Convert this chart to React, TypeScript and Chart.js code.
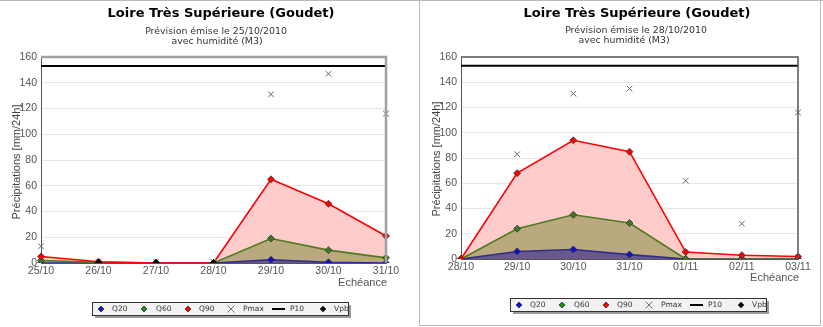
import React, { useEffect, useRef } from "react";
import { Chart, registerables } from "chart.js";
Chart.register(...registerables);

// ---- text ----
const TITLE = "Loire Très Supérieure (Goudet)";
const SUBTITLE_2 = "avec humidité (M3)";
const Y_TITLE = "Précipitations [mm/24h]";
const X_TITLE = "Echéance";
const LEGEND_LABELS = ["Q20", "Q60", "Q90", "Pmax", "P10", "Vpb"];
const Y_MIN = 0;
const Y_MAX = 160;
const Y_STEP = 20;

// ---- left chart data ----
const leftIssue = "Prévision émise le 25/10/2010";
const leftDates = ["25/10", "26/10", "27/10", "28/10", "29/10", "30/10", "31/10"];
const leftQ20 = [0, 0, 0, 0, 2.5, 0.5, 0];
const leftQ60 = [2, 0.5, 0, 0, 19, 10, 4];
const leftQ90 = [5, 1, 0, 0, 65, 46, 21];
const leftPmax = [13, 1, 1, 1, 131, 147, 116];
const leftP10 = 153;
const leftVpb = [null, 0, 0, 0, null, null, null];

// ---- right chart data ----
const rightIssue = "Prévision émise le 28/10/2010";
const rightDates = ["28/10", "29/10", "30/10", "31/10", "01/11", "02/11", "03/11"];
const rightQ20 = [0, 6, 7.5, 3.5, 0, 0, 0];
const rightQ60 = [0, 24, 35, 28.5, 0, 0, 0];
const rightQ90 = [0, 68, 94, 85, 5.5, 3, 2];
const rightPmax = [null, 83, 131, 135, 62, 28, 116];
const rightP10 = 153;
const rightVpb = [null, null, null, null, null, null, null];

const TICK_FONT = { family: "'Liberation Sans', Arial, sans-serif", size: 10.5 };

type Geom = {
  x: number; w: number; h: number;
  left: number; right: number; top: number; bottom: number;
  titleX: number; sub1X: number; sub2X: number;
  titleY: number; sub1Y: number; sub2Y: number;
  yTitleX: number; yTitleY: number; xTitleDy: number;
  legX: number; legY: number;
  frameColor: string; frameWidth: number;
};

type PanelProps = {
  dates: string[]; q20: number[]; q60: number[]; q90: number[];
  pmax: (number | null)[]; vpb: (number | null)[]; p10: number; issue: string; g: Geom;
};

function diamond(ctx: CanvasRenderingContext2D, x: number, y: number, r: number, fill: string) {
  ctx.beginPath();
  ctx.moveTo(x, y - r);
  ctx.lineTo(x + r, y);
  ctx.lineTo(x, y + r);
  ctx.lineTo(x - r, y);
  ctx.closePath();
  ctx.fillStyle = fill;
  ctx.fill();
  ctx.strokeStyle = "#333";
  ctx.lineWidth = 0.8;
  ctx.stroke();
}

function Panel({ dates, q20, q60, q90, pmax, vpb, p10, issue, g }: PanelProps) {
  const ref = useRef<HTMLCanvasElement>(null);
  useEffect(() => {
    const X_H = 20;
    const decor = {
      id: "decor",
      afterDraw(chart: any) {
        const ctx: CanvasRenderingContext2D = chart.ctx;
        const a = chart.chartArea;
        ctx.save();
        // frame top & right
        ctx.strokeStyle = g.frameColor;
        ctx.lineWidth = g.frameWidth;
        ctx.beginPath();
        ctx.moveTo(a.left, a.top);
        ctx.lineTo(a.right, a.top);
        ctx.lineTo(a.right, a.bottom);
        ctx.stroke();
        // titles
        ctx.textAlign = "center";
        ctx.textBaseline = "middle";
        ctx.fillStyle = "#000";
        ctx.font = "bold 13px 'DejaVu Sans', sans-serif";
        ctx.fillText(TITLE, g.titleX, g.titleY);
        ctx.fillStyle = "#333";
        ctx.font = "9.4px 'DejaVu Sans', sans-serif";
        ctx.fillText(issue, g.sub1X, g.sub1Y);
        ctx.fillText(SUBTITLE_2, g.sub2X, g.sub2Y);
        // y title
        ctx.save();
        ctx.translate(g.yTitleX, g.yTitleY);
        ctx.rotate(-Math.PI / 2);
        ctx.fillStyle = "#444";
        ctx.font = "11px 'Liberation Sans', Arial, sans-serif";
        ctx.fillText(Y_TITLE, 0, 0);
        ctx.restore();
        // x title
        ctx.textAlign = "right";
        ctx.fillStyle = "#555";
        ctx.font = "11px 'Liberation Sans', Arial, sans-serif";
        ctx.fillText(X_TITLE, a.right + 1, a.bottom + g.xTitleDy);
        // legend
        const lw = 256, lh = 13;
        ctx.fillStyle = "#9a9a9a";
        ctx.fillRect(g.legX + 3, g.legY + 3, lw, lh);
        ctx.fillStyle = "#f2f2f2";
        ctx.fillRect(g.legX, g.legY, lw, lh);
        ctx.strokeStyle = "#333";
        ctx.lineWidth = 1;
        ctx.strokeRect(g.legX + 0.5, g.legY + 0.5, lw, lh);
        const cy = g.legY + lh / 2 + 0.5;
        const mk = [9, 52, 96, 139, 186, 231];
        const lb = [20, 64, 107, 151, 198, 242];
        diamond(ctx, g.legX + mk[0], cy, 3, "#1010d0");
        diamond(ctx, g.legX + mk[1], cy, 3, "#1a8a1a");
        diamond(ctx, g.legX + mk[2], cy, 3, "#ff0000");
        ctx.strokeStyle = "#666";
        ctx.lineWidth = 0.9;
        ctx.beginPath();
        ctx.moveTo(g.legX + mk[3] - 3.5, cy - 3.5);
        ctx.lineTo(g.legX + mk[3] + 3.5, cy + 3.5);
        ctx.moveTo(g.legX + mk[3] + 3.5, cy - 3.5);
        ctx.lineTo(g.legX + mk[3] - 3.5, cy + 3.5);
        ctx.stroke();
        ctx.strokeStyle = "#000";
        ctx.lineWidth = 2;
        ctx.beginPath();
        ctx.moveTo(g.legX + 180, cy);
        ctx.lineTo(g.legX + 193, cy);
        ctx.stroke();
        diamond(ctx, g.legX + mk[5], cy, 3, "#000");
        ctx.textAlign = "left";
        ctx.fillStyle = "#333";
        ctx.font = "7.5px 'DejaVu Sans', sans-serif";
        LEGEND_LABELS.forEach((t, i) => ctx.fillText(t, g.legX + lb[i], cy));
        ctx.restore();
      },
    };

    const fillDs = (data: number[], color: string) => ({
      data, fill: "origin", backgroundColor: color, borderWidth: 0, pointRadius: 0, tension: 0,
    });
    const lineDs = (data: number[], line: string, marker: string) => ({
      data, fill: false, borderColor: line, borderWidth: 1.6, pointStyle: "rectRot",
      pointRadius: 3.5, pointBackgroundColor: marker, pointBorderColor: "#333", pointBorderWidth: 0.8, tension: 0,
    });

    const chart = new Chart(ref.current!, {
      type: "line",
      data: {
        labels: dates,
        datasets: [
          { data: vpb, showLine: false, pointStyle: "rectRot", pointRadius: 3.5, pointBackgroundColor: "#000", pointBorderColor: "#000", borderColor: "#000" },
          { data: pmax, showLine: false, pointStyle: "crossRot", pointRadius: 4, pointBorderColor: "#666", pointBorderWidth: 1, borderColor: "#666" },
          lineDs(q90, "#ff0000", "#ff0000"),
          lineDs(q60, "#4f7a1e", "#3f7a1e"),
          lineDs(q20, "#2e2e8a", "#1010d0"),
          { data: dates.map(() => p10), borderColor: "#000", borderWidth: 2, pointRadius: 0, fill: false },
          fillDs(q20, "rgb(104,88,140)"),
          fillDs(q60, "rgb(186,168,126)"),
          fillDs(q90, "rgb(255,204,204)"),
        ] as any,
      },
      options: {
        responsive: false,
        animation: false,
        layout: {
          padding: { left: 0, top: g.top, right: g.w - g.right, bottom: g.h - g.bottom - X_H },
        },
        plugins: { legend: { display: false }, tooltip: { enabled: false }, title: { display: false } },
        scales: {
          x: {
            type: "category",
            offset: false,
            grid: { display: false, drawTicks: false },
            border: { display: true, color: "#555", width: 1 },
            ticks: { color: "#555", font: TICK_FONT, maxRotation: 0, autoSkip: false, padding: 2 },
            afterFit: (s: any) => { s.height = X_H; },
          },
          y: {
            min: Y_MIN, max: Y_MAX,
            grid: { color: "#e6e6e6", drawTicks: false },
            border: { display: true, color: "#555", width: 1 },
            ticks: { stepSize: Y_STEP, color: "#555", font: TICK_FONT, padding: 4 },
            afterFit: (s: any) => { s.width = g.left; },
          },
        },
      } as any,
      plugins: [decor],
    });
    return () => chart.destroy();
  }, []);
  return (
    <canvas
      ref={ref}
      width={g.w}
      height={g.h}
      style={{ position: "absolute", left: g.x, top: 0, width: g.w, height: g.h }}
    />
  );
}

const leftGeom: Geom = {
  x: 0, w: 412, h: 327, left: 41, right: 386, top: 57, bottom: 263,
  titleX: 221, sub1X: 216, sub2X: 217, titleY: 13.5, sub1Y: 31.5, sub2Y: 41.5,
  yTitleX: 17, yTitleY: 162, xTitleDy: 20, legX: 92, legY: 302,
  frameColor: "#a0a0a0", frameWidth: 2.5,
};
const rightGeom: Geom = {
  x: 420, w: 401, h: 326, left: 41, right: 378, top: 57, bottom: 259,
  titleX: 217, sub1X: 216, sub2X: 204, titleY: 13.5, sub1Y: 30.5, sub2Y: 40.5,
  yTitleX: 17, yTitleY: 159, xTitleDy: 19, legX: 90, legY: 298,
  frameColor: "#555", frameWidth: 1.5,
};

export default function App() {
  return (
    <div style={{ position: "absolute", left: 0, top: 0, width: 823, height: 327, background: "#fff", overflow: "hidden" }}>
      <div style={{ position: "absolute", left: 0, top: 0, width: 823, height: 1, background: "#b8b8b8" }} />
      <div style={{ position: "absolute", left: 419, top: 0, width: 402, height: 326, border: "1px solid #b8b8b8", boxSizing: "border-box" }} />
      <Panel dates={leftDates} q20={leftQ20} q60={leftQ60} q90={leftQ90} pmax={leftPmax} vpb={leftVpb} p10={leftP10} issue={leftIssue} g={leftGeom} />
      <Panel dates={rightDates} q20={rightQ20} q60={rightQ60} q90={rightQ90} pmax={rightPmax} vpb={rightVpb} p10={rightP10} issue={rightIssue} g={rightGeom} />
    </div>
  );
}
